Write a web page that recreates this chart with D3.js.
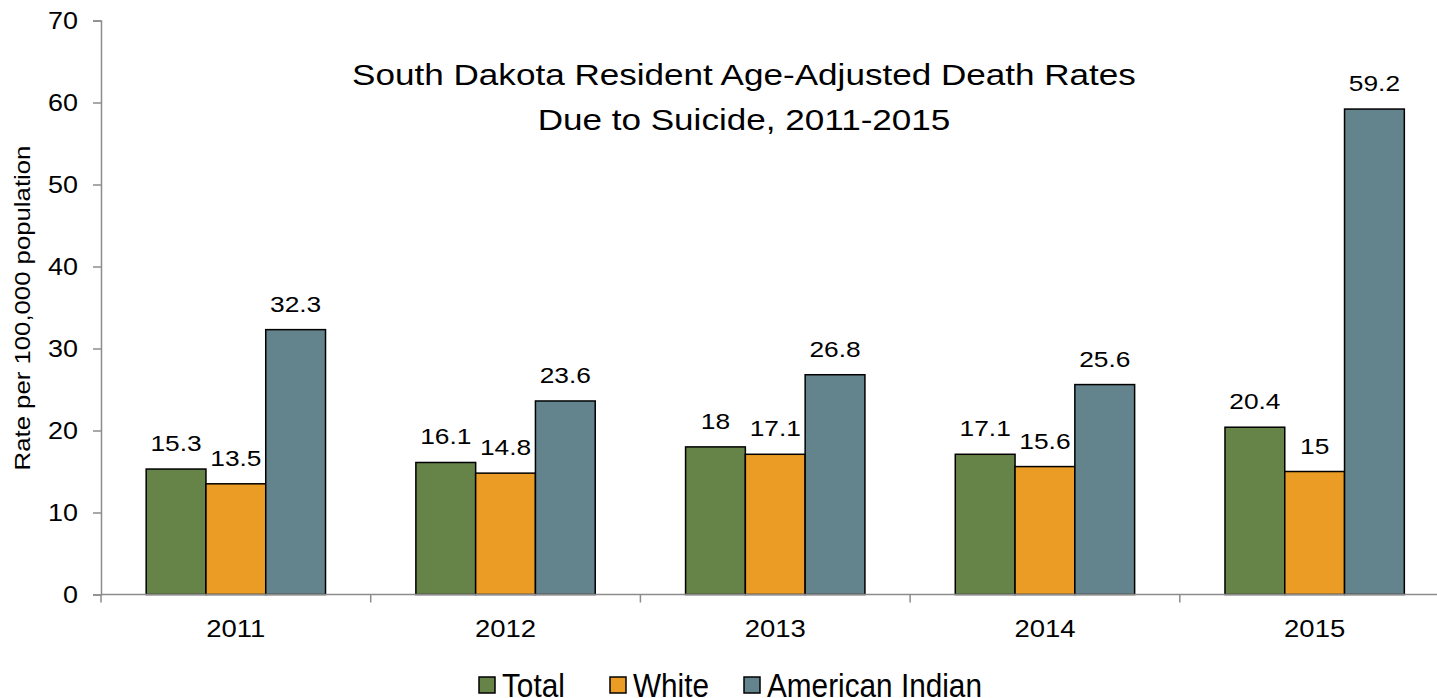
<!DOCTYPE html>
<html>
<head>
<meta charset="utf-8">
<script src="https://cdn.jsdelivr.net/npm/d3@7"></script>
<style>
  html, body { margin: 0; padding: 0; background: #fff; }
  svg { display: block; }
  text { font-family: "Liberation Sans", Arial, sans-serif; fill: #000; }
</style>
</head>
<body>
<svg id="chart" width="1437" height="698"></svg>
<script>
// Age-adjusted suicide death rates per 100,000, South Dakota residents
const years = ["2011", "2012", "2013", "2014", "2015"];
const seriesNames = ["Total", "White", "American Indian"];
const totalRates = [15.3, 16.1, 18, 17.1, 20.4];
const whiteRates = [13.5, 14.8, 17.1, 15.6, 15];
const americanIndianRates = [32.3, 23.6, 26.8, 25.6, 59.2];
const yTicks = [0, 10, 20, 30, 40, 50, 60, 70];
const titleLines = ["South Dakota Resident Age-Adjusted Death Rates", "Due to Suicide, 2011-2015"];
const yAxisLabel = "Rate per 100,000 population";

const seriesValues = [totalRates, whiteRates, americanIndianRates];
const colors = ["#668348", "#EA9C25", "#64848D"];
const axisColor = "#8c8c8c";
const stretch = 1.17;       // horizontal glyph widening for chart text
const legendStretch = 0.875; // legend text is set tall and narrow

const svg = d3.select("#chart");

const plot = { left: 101, right: 1449.5, top: 20.5, bottom: 594.5 };

const x0 = d3.scaleBand()
  .domain(years)
  .range([plot.left, plot.right])
  .paddingInner(0.335)
  .paddingOuter(0.1675);

const x1 = d3.scaleBand()
  .domain(seriesNames)
  .range([0, x0.bandwidth()]);

const y = d3.scaleLinear()
  .domain([0, 70])
  .range([plot.bottom, plot.top]);

// place a text at (x, y) with optional rotation and horizontal glyph scaling
function placeText(sel, x, yy, rot, k) {
  sel.attr("transform", `translate(${x},${yy}) rotate(${rot || 0}) scale(${k || stretch},1)`);
  return sel;
}

// bars
const rows = years.map((yr, i) => seriesNames.map((s, j) => ({ year: yr, series: s, value: seriesValues[j][i], j })));

const groups = svg.append("g").selectAll("g")
  .data(rows)
  .join("g")
  .attr("transform", d => `translate(${x0(d[0].year)},0)`);

groups.selectAll("rect")
  .data(d => d)
  .join("rect")
  .attr("x", d => x1(d.series))
  .attr("y", d => y(d.value))
  .attr("width", x1.bandwidth())
  .attr("height", d => y(0) - y(d.value))
  .attr("fill", d => colors[d.j])
  .attr("stroke", "#000")
  .attr("stroke-width", 1.5);

// value labels
groups.selectAll("text.val")
  .data(d => d)
  .join("text")
  .attr("class", "val")
  .attr("text-anchor", "middle")
  .style("font-size", "22.5px")
  .text(d => d3.format("")(d.value))
  .each(function(d) { placeText(d3.select(this), x1(d.series) + x1.bandwidth() / 2, y(d.value) - 18); });

// y axis
const yAxis = svg.append("g")
  .attr("transform", `translate(${plot.left},0)`)
  .call(d3.axisLeft(y).tickValues(yTicks).tickSize(8).tickPadding(14).tickFormat(d3.format("d")));
yAxis.select(".domain").attr("stroke", axisColor).attr("stroke-width", 1.5);
yAxis.selectAll(".tick line").attr("stroke", axisColor).attr("stroke-width", 1.5);
yAxis.selectAll(".tick text")
  .attr("x", null).attr("dy", null)
  .style("font-size", "23px")
  .attr("text-anchor", "end")
  .each(function() { placeText(d3.select(this), -23, 8); });

// x axis: category boundary ticks
const xAxisG = svg.append("g").attr("transform", `translate(0,${plot.bottom})`);
xAxisG.append("line")
  .attr("x1", plot.left).attr("x2", plot.right)
  .attr("stroke", axisColor).attr("stroke-width", 1.5);
const boundaries = years.map(yr => x0(yr) - x0.step() * x0.paddingOuter());
boundaries.push(plot.right);
xAxisG.selectAll("line.tk")
  .data(boundaries)
  .join("line")
  .attr("class", "tk")
  .attr("x1", d => d).attr("x2", d => d)
  .attr("y1", 0).attr("y2", 8)
  .attr("stroke", axisColor).attr("stroke-width", 1.5);
xAxisG.selectAll("text")
  .data(years)
  .join("text")
  .attr("text-anchor", "middle")
  .style("font-size", "23.5px")
  .text(d => d)
  .each(function(d) { placeText(d3.select(this), x0(d) + x0.bandwidth() / 2, 42); });

// y axis title
placeText(svg.append("text")
  .attr("text-anchor", "middle")
  .style("font-size", "22px")
  .text(yAxisLabel), 30, 308, -90);

// chart title
svg.append("g").selectAll("text")
  .data(titleLines)
  .join("text")
  .attr("text-anchor", "middle")
  .style("font-size", "30px")
  .text(d => d)
  .each(function(d, i) { placeText(d3.select(this), 744, 84.5 + i * 45); });

// legend
const legendX = [479, 610, 744];
const legend = svg.append("g").selectAll("g")
  .data(seriesNames)
  .join("g")
  .attr("transform", (d, i) => `translate(${legendX[i]},0)`);
legend.append("rect")
  .attr("x", 0).attr("y", 677)
  .attr("width", 16).attr("height", 16)
  .attr("fill", (d, i) => colors[i])
  .attr("stroke", "#000").attr("stroke-width", 1.5);
legend.append("text")
  .style("font-size", "34px")
  .text(d => d)
  .each(function() { placeText(d3.select(this), 23, 697, 0, legendStretch); });
</script>
</body>
</html>
